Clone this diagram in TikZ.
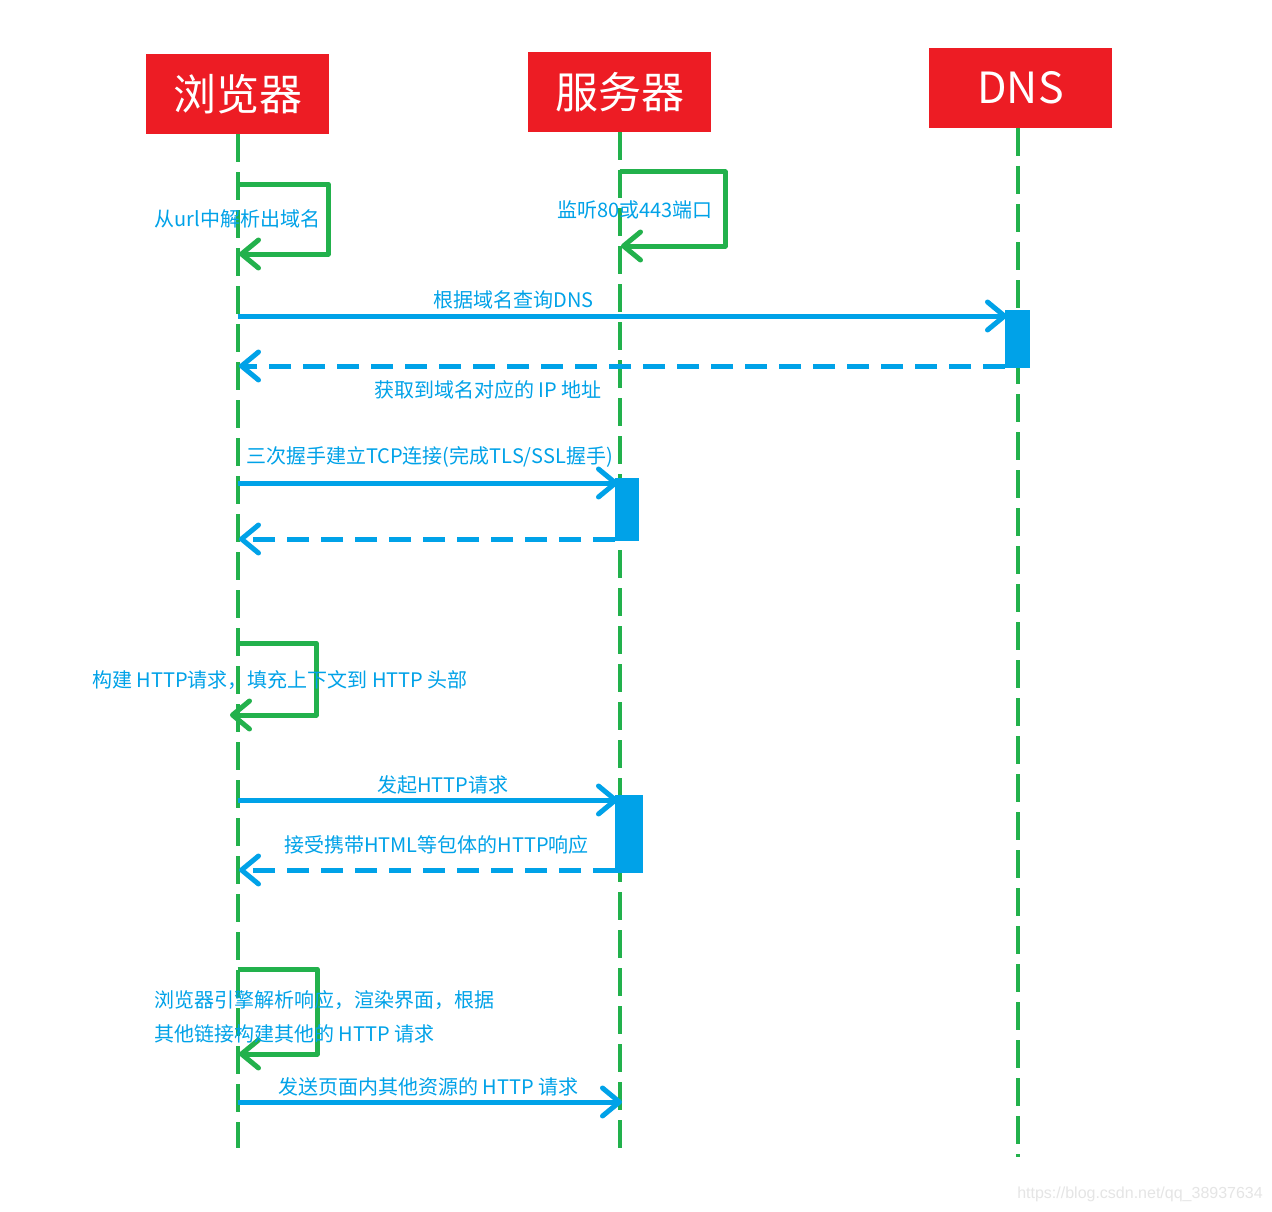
\documentclass[tikz,border=0pt]{standalone}
\usepackage{fontspec}
\setmainfont{Noto Sans CJK SC}
\newfontfamily\wmfont{Liberation Sans}
\usetikzlibrary{arrows.meta}
\definecolor{hdred}{HTML}{ED1C24}
\definecolor{lgreen}{HTML}{22B14C}
\definecolor{mblue}{HTML}{00A2E8}
\begin{document}
\begin{tikzpicture}[x=1pt,y=-1pt,
  header/.style={fill=hdred, text=white, minimum width=183pt, minimum height=80pt, inner sep=0pt, font=\fontsize{43}{50}\selectfont},
  life/.style={draw=lgreen, line width=4pt, dash pattern=on 28pt off 10pt},
  selfloop/.style={draw=lgreen, line width=5pt, line join=round, -{Straight Barb[length=17pt,width=28pt,round]}},
  msg/.style={draw=mblue, line width=5pt, -{Straight Barb[length=17pt,width=28pt,round]}},
  ret/.style={msg, dash pattern=on 22pt off 12pt},
  act/.style={fill=mblue, inner sep=0pt},
  lbl/.style={text=mblue, font=\fontsize{20}{24}\selectfont, inner sep=0pt}
]
\fill[white] (0,0) rectangle (1272,1212);
\useasboundingbox (0,0) rectangle (1272,1212);

% headers
\node[header] (br) at (237.5,94) {浏览器};
\node[header] (sv) at (619.5,92) {服务器};
\node[header] (dns) at (1020.5,88) {DNS};

% lifeline ends
\coordinate (brEnd) at (237.5,1148);
\coordinate (svEnd) at (619.5,1150);
\coordinate (dnsEnd) at (1018,1157);

\draw[life] (br.south) -- (brEnd);
\draw[life] (sv.south) -- (svEnd);
\draw[life] (1018,128) coordinate (dnsTop) -- (dnsEnd);

% activation boxes
\node[act, minimum width=25pt, minimum height=58pt] (a1) at (1017.5,339) {};
\node[act, minimum width=24pt, minimum height=63pt] (a2) at (627,509.5) {};
\node[act, minimum width=28pt, minimum height=78pt] (a3) at (629,834) {};

% self loop 1 (browser)
\coordinate (l1a) at (237.5,184);
\coordinate (l1b) at (239,254);
\draw[selfloop] (l1a) -- (328,184) -- (328,254) -- (l1b);
\node[lbl] (t1) at (237.5,219) {从url中解析出域名};

% self loop 2 (server)
\coordinate (l2a) at (619.5,172);
\coordinate (l2b) at (621,246);
\draw[selfloop] (l2a) -- (725,172) -- (725,246) -- (l2b);
\node[lbl] (t2) at (635,210) {监听80或443端口};

% DNS query
\coordinate (m1a) at (237.5,316);
\coordinate (m1b) at (1007,316);
\draw[msg] (m1a) -- (m1b);
\node[lbl] (t3) at (513.5,300) {根据域名查询DNS};
\coordinate (r1a) at (1005,366);
\coordinate (r1b) at (239,366);
\draw[ret] (r1a) -- (r1b);
\node[lbl] (t4) at (488,390) {获取到域名对应的 IP 地址};

% TCP
\coordinate (m2a) at (237.5,483);
\coordinate (m2b) at (618,483);
\draw[msg] (m2a) -- (m2b);
\node[lbl] (t5) at (429.5,457) {三次握手建立TCP连接(完成TLS/SSL握手)};
\coordinate (r2a) at (615,539);
\coordinate (r2b) at (239,539);
\draw[ret] (r2a) -- (r2b);

% self loop 3
\coordinate (l3a) at (237.5,643);
\coordinate (l3b) at (230,715);
\draw[selfloop] (l3a) -- (316,643) -- (316,715) -- (l3b);
\node[lbl] (t6) at (280,680) {构建 HTTP请求，填充上下文到 HTTP 头部};

% HTTP request
\coordinate (m3a) at (237.5,800);
\coordinate (m3b) at (618,800);
\draw[msg] (m3a) -- (m3b);
\node[lbl] (t7) at (443,785) {发起HTTP请求};
\coordinate (r3a) at (615,870);
\coordinate (r3b) at (239,870);
\draw[ret] (r3a) -- (r3b);
\node[lbl] (t8) at (436.5,845) {接受携带HTML等包体的HTTP响应};

% self loop 4
\coordinate (l4a) at (237.5,969);
\coordinate (l4b) at (239,1054);
\draw[selfloop] (l4a) -- (317,969) -- (317,1054) -- (l4b);
\node[lbl, anchor=west] (t9) at (154,1000) {浏览器引擎解析响应，渲染界面，根据};
\node[lbl, anchor=west] (t10) at (154,1034) {其他链接构建其他的 HTTP 请求};

% other resources
\coordinate (m4a) at (237.5,1102);
\coordinate (m4b) at (622,1102);
\draw[msg] (m4a) -- (m4b);
\node[lbl] (t11) at (428.5,1087) {发送页面内其他资源的 HTTP 请求};

% watermark
\node[anchor=east, text=black!10, font=\wmfont\fontsize{16}{18}\selectfont, inner sep=0pt] (wm) at (1263,1194) {https://blog.csdn.net/qq\_38937634};
\end{tikzpicture}
\end{document}
